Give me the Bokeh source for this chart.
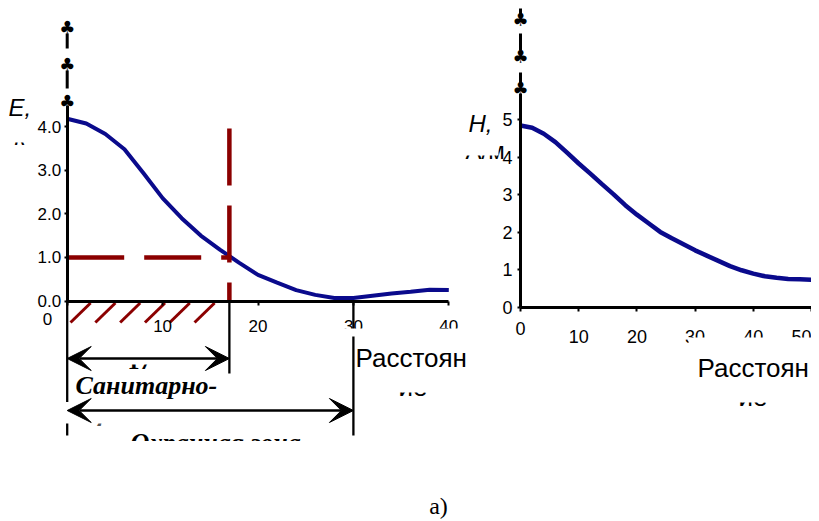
import numpy as np
from bokeh.plotting import figure
from bokeh.models import (Range1d, LinearAxis, FixedTicker, Label, Arrow, VeeHead,
                          BoxAnnotation, PrintfTickFormatter)
from bokeh.core.properties import value
from bokeh.embed import file_html
from bokeh.resources import INLINE

# ---------------- data ----------------
distance_e = [0, 2, 4, 6, 8, 10, 12, 14, 16, 18, 20, 22, 24, 26, 28, 30, 32, 34, 36, 38, 40]
e_field = [4.18, 4.07, 3.83, 3.48, 2.93, 2.36, 1.90, 1.50, 1.18, 0.88, 0.60, 0.42, 0.25,
           0.14, 0.07, 0.07, 0.12, 0.17, 0.21, 0.26, 0.25]
distance_h = [0, 2, 4, 6, 8, 10, 12, 14, 16, 18, 20, 22, 24, 26, 28, 30, 32, 34, 36, 38, 40,
              42, 44, 46, 48, 50]
h_field = [4.84, 4.78, 4.62, 4.40, 4.12, 3.83, 3.56, 3.28, 3.01, 2.72, 2.47, 2.24, 2.01,
           1.84, 1.68, 1.52, 1.38, 1.24, 1.10, 0.99, 0.90, 0.83, 0.79, 0.76, 0.75, 0.74]
e_ticks_x = [0, 10, 20, 30, 40]
e_ticks_y = [0, 1, 2, 3, 4]
h_ticks_x = [0, 10, 20, 30, 40, 50]
h_ticks_y = [0, 1, 2, 3, 4, 5]
e_limit = 1.0          # kV/m
sanitary_zone = 17     # m
protection_zone = 30   # m
x_label = "Расстоян"
x_label2 = "ие"
caption = "а)"

# ---------------- layout (page pixels) ----------------
W, H = 811, 519
FL, FT, FR, FB = 8, 8, 811, 519          # frame box on page
LX0, LSX, LY0, LSY = 66.7, 9.54, 300.5, 43.6   # left chart: origin px, px per unit
RX0, RSX, RY0, RSY = 520.0, 5.82, 307.0, 37.6  # right chart

def lx(px): return (px - LX0) / LSX
def ly(py): return (LY0 - py) / LSY
def rx(px): return (px - RX0) / RSX
def ry(py): return (RY0 - py) / RSY

SANS = "Liberation Sans"
SERIF = "Liberation Serif"
NAVY = "#0a0a8c"
DRED = "#8b0000"

p = figure(width=W, height=H, x_range=Range1d(lx(FL), lx(FR)), y_range=Range1d(ly(FB), ly(FT)),
           output_backend="svg", toolbar_location=None, x_axis_type=None, y_axis_type=None,
           min_border_left=FL, min_border_right=W - FR, min_border_top=FT, min_border_bottom=H - FB)
p.extra_x_ranges = {"hx": Range1d(rx(FL), rx(FR))}
p.extra_y_ranges = {"hy": Range1d(ry(FB), ry(FT))}
p.outline_line_color = None
p.background_fill_color = "white"
p.border_fill_color = "white"


def style_axis(ax, size):
    ax.axis_line_width = 3
    ax.axis_line_color = "black"
    ax.major_tick_line_width = 2
    ax.major_tick_line_color = "black"
    ax.major_tick_out = 4
    ax.major_tick_in = 0
    ax.minor_tick_out = 0
    ax.minor_tick_in = 0
    ax.major_label_text_font = SANS
    ax.major_label_text_font_size = size
    ax.major_label_text_color = "black"

# ---- left chart axes ----
ax1 = LinearAxis(fixed_location=0, bounds=(0, max(e_ticks_x)), ticker=FixedTicker(ticks=e_ticks_x),
                 major_label_overrides={0: ""})
style_axis(ax1, "17px")
ax1.major_label_standoff = 15
p.add_layout(ax1, "below")

ay1 = LinearAxis(fixed_location=0, bounds=(0, ly(105)), ticker=FixedTicker(ticks=e_ticks_y),
                 formatter=PrintfTickFormatter(format="%.1f"))
style_axis(ay1, "17px")
ay1.major_tick_out = 3
ay1.major_label_standoff = 3
p.add_layout(ay1, "left")

# ---- right chart axes ----
ax2 = LinearAxis(x_range_name="hx", y_range_name="hy", fixed_location=0,
                 bounds=(0, max(h_ticks_x)), ticker=FixedTicker(ticks=h_ticks_x),
                 major_label_overrides={0: ""})
style_axis(ax2, "18px")
ax2.major_label_standoff = 18
p.add_layout(ax2, "below")

ay2 = LinearAxis(x_range_name="hx", y_range_name="hy", fixed_location=0,
                 bounds=(0, ry(93)), ticker=FixedTicker(ticks=h_ticks_y))
style_axis(ay2, "18px")
ay2.major_tick_out = 3
ay2.major_label_standoff = 5
p.add_layout(ay2, "left")

# origin "0" labels placed apart from the axes
p.text(x=[lx(47)], y=[ly(318)], text=["0"], text_font=value(SANS), text_font_size="17px",
       text_align="center", text_baseline="middle", text_color="black")
p.text(x=[rx(520)], y=[ry(328)], text=["0"], text_font=value(SANS), text_font_size="18px",
       text_align="center", text_baseline="middle", text_color="black", x_range_name="hx",
       y_range_name="hy")

# broken axis arrows (club glyphs + segments)
p.segment(x0=[0, 0], x1=[0, 0], y0=[ly(33), ly(70)], y1=[ly(48), ly(88)], line_width=3, line_color="black")
p.text(x=[0, 0, 0], y=[ly(27), ly(63.5), ly(101)], text=["♣"] * 3, text_font=value("DejaVu Sans"),
       text_font_size="18px", text_align="center", text_baseline="middle", text_color="black")
p.segment(x0=[0, 0, 0], x1=[0, 0, 0], y0=[ry(6), ry(33), ry(72)], y1=[ry(14), ry(50), ry(84)],
          line_width=3, line_color="black", x_range_name="hx", y_range_name="hy")
p.text(x=[0, 0, 0], y=[ry(19), ry(56), ry(88)], text=["♣"] * 3, text_font=value("DejaVu Sans"),
       text_font_size="18px", text_align="center", text_baseline="middle", text_color="black",
       x_range_name="hx", y_range_name="hy")

# hatched sanitary zone under the axis
hx0 = np.arange(0.35, sanitary_zone - 2.5, 2.6)
p.segment(x0=hx0, x1=hx0 + 2.1, y0=[ly(322)] * len(hx0), y1=[ly(302.5)] * len(hx0),
          line_width=3, line_color=DRED)

# curves
p.line(distance_e, e_field, line_width=4, line_color=NAVY)
p.line(distance_h, h_field, line_width=4.5, line_color=NAVY, x_range_name="hx", y_range_name="hy")

# threshold dashed lines
p.line([0, sanitary_zone], [e_limit, e_limit], line_width=4.5, line_color=DRED, line_dash="57 20")
p.line([sanitary_zone, sanitary_zone], [ly(128), 0], line_width=4.5, line_color=DRED, line_dash="57 20")

# axis-label texts and zone captions
p.text(x=[lx(14)], y=[ly(135.5)], text=["к"], text_font=value(SANS), text_font_style="italic",
       text_font_size="24px", text_baseline="alphabetic", text_color="black")
p.text(x=[rx(465)], y=[ry(150)], text=["А/м"], text_font=value(SANS),
       text_font_size="24px", text_baseline="alphabetic", text_color="black",
       x_range_name="hx", y_range_name="hy")
p.text(x=[lx(127)], y=[ly(361)], text=[str(sanitary_zone)], text_font=value(SERIF),
       text_font_style="bold", text_font_size="24px", text_baseline="alphabetic", text_color="black")
p.text(x=[lx(75)], y=[ly(385)], text=["Санитарно-"], text_font=value(SERIF),
       text_font_style="bold italic", text_font_size="26px", text_baseline="alphabetic", text_color="black")
p.text(x=[lx(58)], y=[ly(412)], text=["защитная зона"], text_font=value(SERIF),
       text_font_style="bold italic", text_font_size="26px", text_baseline="alphabetic", text_color="#555555")
p.text(x=[lx(130)], y=[ly(442)], text=["Охранная зона"], text_font=value(SERIF),
       text_font_style="bold italic", text_font_size="26px", text_baseline="alphabetic", text_color="black")

p.add_layout(Label(x=lx(8), y=ly(107), text="E,", text_font=SANS, text_font_style="italic",
                   text_font_size="24px", text_baseline="alphabetic", text_color="black"))
p.add_layout(Label(x=rx(468), y=ry(123), text="H,", text_font=SANS, text_font_style="italic",
                   text_font_size="24px", text_baseline="alphabetic", text_color="black",
                   x_range_name="hx", y_range_name="hy"))


def mask(x0, x1, y0, y1, rng=None):
    if rng:
        b = BoxAnnotation(left=rx(x0), right=rx(x1), top=ry(y0), bottom=ry(y1),
                          x_range_name="hx", y_range_name="hy")
    else:
        b = BoxAnnotation(left=lx(x0), right=lx(x1), top=ly(y0), bottom=ly(y1))
    b.fill_color = "white"
    b.fill_alpha = 1.0
    b.line_alpha = 0
    p.add_layout(b)

mask(8, 33, 128.5, 142)                  # кВ/м
mask(460, 498, 140.5, 155, rng=True)     # А/м
mask(120, 165, 352, 364)                 # 17
mask(55, 262, 401.5, 423)                # защитная зона
mask(120, 320, 440.5, 465)               # Охранная зона (cut at bottom)
mask(338, 470, 328, 336)                 # tick labels under x label (left)
mask(688, 811, 337, 346, rng=True)       # tick labels under x label (right)

p.add_layout(Label(x=lx(355), y=ly(357), text=x_label, text_font=SANS, text_font_size="26px",
                   text_baseline="alphabetic", text_color="black"))
p.add_layout(Label(x=rx(697), y=ry(367), text=x_label, text_font=SANS, text_font_size="26px",
                   text_baseline="alphabetic", text_color="black", x_range_name="hx", y_range_name="hy"))
p.add_layout(Label(x=lx(398), y=ly(386), text=x_label2, text_font=SANS, text_font_size="26px",
                   text_baseline="alphabetic", text_color="black"))
p.add_layout(Label(x=rx(738), y=ry(396), text=x_label2, text_font=SANS, text_font_size="26px",
                   text_baseline="alphabetic", text_color="black", x_range_name="hx", y_range_name="hy"))
mask(390, 440, 380, 392)
mask(730, 780, 390, 402, rng=True)

# zone boundary lines (drawn above masks)
vl = p.segment(x0=[0, sanitary_zone, protection_zone], x1=[0, sanitary_zone, protection_zone],
               y0=[0, 0, 0], y1=[ly(435), ly(373), ly(435)], line_width=2.3, line_color="black")
vl.level = "annotation"

# zone arrows
for zone, ypx in [(sanitary_zone, 358), (protection_zone, 410)]:
    p.add_layout(Arrow(start=VeeHead(size=24, fill_color="black", line_color="black"),
                       end=VeeHead(size=24, fill_color="black", line_color="black"),
                       x_start=0, y_start=ly(ypx), x_end=zone, y_end=ly(ypx),
                       line_width=2.5, line_color="black"))

# figure caption
p.add_layout(Label(x=lx(438), y=ly(505), text=caption, text_font=SERIF, text_font_size="24px",
                   text_align="center", text_baseline="middle", text_color="black"))

open("out.html", "w").write(file_html(p, INLINE))
